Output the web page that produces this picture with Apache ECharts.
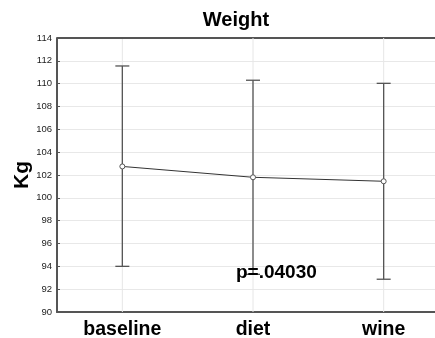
<!DOCTYPE html>
<html>
<head>
<meta charset="utf-8">
<script src="https://cdn.jsdelivr.net/npm/echarts@6/dist/echarts.min.js"></script>
<style>
  html, body { margin: 0; padding: 0; background: #fff; }
  #weightChart { width: 435px; height: 338px; }
</style>
</head>
<body>
<div id="weightChart"></div>
<script>
// data
var categories = ['baseline', 'diet', 'wine'];
var means = [102.75, 101.8, 101.45];
var upper = [111.55, 110.3, 110.03];
var lower = [94.0, 93.3, 92.87];
var yTicks = [90, 92, 94, 96, 98, 100, 102, 104, 106, 108, 110, 112, 114];

var errData = categories.map(function (c, i) {
    return [i, lower[i], upper[i]];
});

var chart = echarts.init(document.getElementById('weightChart'));
var option = {
    animation: false,
    title: {
        text: 'Weight',
        left: 231,
        top: 5,
        textAlign: 'center',
        textStyle: { fontFamily: 'Liberation Sans', fontWeight: 'bold', fontSize: 20, color: '#000' }
    },
    // plot runs past the right edge of the picture, as in the original
    grid: { left: 57, width: 392, top: 38, height: 274, outerBoundsMode: 'none', containLabel: false },
    xAxis: {
        type: 'category',
        data: categories,
        boundaryGap: true,
        axisLine: { lineStyle: { color: '#555', width: 2 } },
        axisTick: { show: false },
        axisLabel: {
            interval: 0,
            margin: 8,
            fontFamily: 'Liberation Sans', fontWeight: 'bold', fontSize: 19.5, color: '#000'
        },
        splitLine: { show: false }
    },
    yAxis: {
        type: 'value',
        min: yTicks[0],
        max: yTicks[yTicks.length - 1],
        interval: 2,
        name: 'Kg',
        nameLocation: 'middle',
        nameMoveOverlap: false,
        nameGap: 24,
        nameTextStyle: { fontFamily: 'Liberation Sans', fontWeight: 'bold', fontSize: 21, color: '#000' },
        axisLine: { show: true, lineStyle: { color: '#555', width: 2 } },
        axisTick: { show: true, length: 3, inside: true, lineStyle: { color: '#555' } },
        axisLabel: { margin: 5, fontFamily: 'Liberation Sans', fontSize: 9.5, color: '#222' },
        splitLine: { lineStyle: { color: '#e8e8e8', width: 1 } }
    },
    series: [
        {
            // vertical light grid lines through each category + top border
            type: 'custom',
            silent: true,
            z: 1,
            data: errData,
            renderItem: function (params, api) {
                var p = api.coord([api.value(0), 114]);
                var b = api.coord([api.value(0), 90]);
                var children = [{
                    type: 'line',
                    shape: { x1: p[0], y1: p[1], x2: b[0], y2: b[1] },
                    style: { stroke: '#e6e6e6', lineWidth: 1 }
                }];
                if (params.dataIndex === 0) {
                    children.push({
                        type: 'line',
                        shape: { x1: 57, y1: p[1], x2: 435, y2: p[1] },
                        style: { stroke: '#555', lineWidth: 2 }
                    });
                }
                return { type: 'group', children: children };
            }
        },
        {
            type: 'custom',
            silent: true,
            z: 3,
            data: errData,
            renderItem: function (params, api) {
                var lo = api.coord([api.value(0), api.value(1)]);
                var hi = api.coord([api.value(0), api.value(2)]);
                var w = 7;
                var st = { stroke: '#555', lineWidth: 1.3 };
                return {
                    type: 'group',
                    children: [
                        { type: 'line', shape: { x1: hi[0], y1: hi[1], x2: lo[0], y2: lo[1] }, style: st },
                        { type: 'line', shape: { x1: hi[0] - w, y1: hi[1], x2: hi[0] + w, y2: hi[1] }, style: st },
                        { type: 'line', shape: { x1: lo[0] - w, y1: lo[1], x2: lo[0] + w, y2: lo[1] }, style: st }
                    ]
                };
            }
        },
        {
            type: 'line',
            data: means,
            z: 4,
            symbol: 'circle',
            symbolSize: 5,
            lineStyle: { color: '#333', width: 1 },
            itemStyle: { color: '#fff', borderColor: '#555', borderWidth: 1 }
        }
    ],
    graphic: [{
        type: 'text',
        left: 236,
        top: 263,
        z: 10,
        style: {
            text: 'p=.04030',
            fontFamily: 'Liberation Sans',
            fontWeight: 'bold',
            fontSize: 19,
            fill: '#000'
        }
    }]
};
chart.setOption(option);
</script>
</body>
</html>
